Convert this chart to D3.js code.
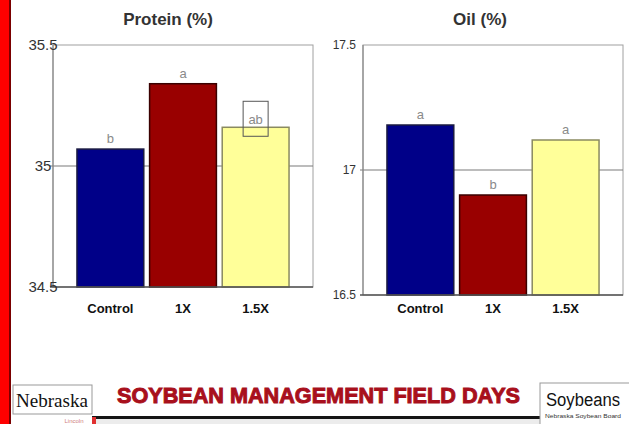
<!DOCTYPE html>
<html>
<head>
<meta charset="utf-8">
<script src="https://cdn.jsdelivr.net/npm/d3@7"></script>
<style>
  body { margin: 0; background: #fff; }
  svg { display: block; }
</style>
</head>
<body>
<svg id="chart" width="629" height="424"></svg>
<script>
// values
var categories = ["Control", "1X", "1.5X"];
var protein = [35.07, 35.34, 35.16];
var oil = [17.18, 16.90, 17.12];
var proteinLetters = ["b", "a", "ab"];
var oilLetters = ["a", "b", "a"];
var proteinTicks = [34.5, 35, 35.5];
var oilTicks = [16.5, 17, 17.5];
var proteinTickText = ["34.5", "35", "35.5"];
var oilTickText = ["16.5", "17", "17.5"];
var barColors = ["#000088", "#990000", "#ffff99"];
var barStrokes = ["#1a1a40", "#3a0000", "#8a8a60"];

var svg = d3.select("#chart");

// red strip on the left
svg.append("rect").attr("x", 0).attr("y", 0).attr("width", 9).attr("height", 424).attr("fill", "#ff0000");
svg.append("rect").attr("x", 9).attr("y", 0).attr("width", 2).attr("height", 424).attr("fill", "#7a0000");

function drawPanel(opt) {
  var x = d3.scaleBand().domain(categories).range([opt.left, opt.right])
    .paddingInner(0.08).paddingOuter(0.33);
  var y = d3.scaleLinear().domain(opt.domain).range([opt.bottom, opt.top]);
  var g = svg.append("g");

  // frame
  g.append("rect")
    .attr("x", opt.left).attr("y", opt.top)
    .attr("width", opt.right - opt.left).attr("height", opt.bottom - opt.top)
    .attr("fill", "none").attr("stroke", "#a0a0a0").attr("stroke-width", 1);

  // gridline at middle tick
  g.append("line")
    .attr("x1", opt.left - 3).attr("x2", opt.right)
    .attr("y1", y(opt.ticks[1])).attr("y2", y(opt.ticks[1]))
    .attr("stroke", "#7a7a7a").attr("stroke-width", 1.2);

  // bars
  g.selectAll("rect.bar").data(opt.values).enter().append("rect")
    .attr("class", "bar")
    .attr("x", function(d, i) { return x(categories[i]); })
    .attr("y", function(d) { return y(d); })
    .attr("width", x.bandwidth())
    .attr("height", function(d) { return opt.bottom - y(d); })
    .attr("fill", function(d, i) { return barColors[i]; })
    .attr("stroke", function(d, i) { return barStrokes[i]; })
    .attr("stroke-width", 1.5);

  // axes lines
  g.append("line").attr("x1", opt.left).attr("x2", opt.left)
    .attr("y1", opt.top).attr("y2", opt.bottom)
    .attr("stroke", "#8a8a8a").attr("stroke-width", 1.2);
  g.append("line").attr("x1", opt.left - 3).attr("x2", opt.right)
    .attr("y1", opt.bottom).attr("y2", opt.bottom)
    .attr("stroke", "#555").attr("stroke-width", 1.5);

  // y tick labels
  g.selectAll("text.ytick").data(opt.ticks).enter().append("text")
    .attr("class", "ytick")
    .attr("x", opt.tickX)
    .attr("y", function(d) { return y(d); })
    .attr("dy", "0.35em")
    .attr("text-anchor", opt.tickAnchor)
    .attr("font-family", opt.tickFont)
    .attr("font-size", opt.tickSize)
    .attr("fill", "#333")
    .text(function(d, i) { return opt.tickText[i]; });

  // x labels
  g.selectAll("text.xlab").data(categories).enter().append("text")
    .attr("class", "xlab")
    .attr("x", function(d) { return x(d) + x.bandwidth() / 2; })
    .attr("y", 313)
    .attr("text-anchor", "middle")
    .attr("font-family", "Liberation Sans, Arial, sans-serif")
    .attr("font-weight", "bold")
    .attr("font-size", 13)
    .attr("fill", "#111")
    .text(function(d) { return d; });

  // significance letters
  g.selectAll("text.letter").data(opt.values).enter().append("text")
    .attr("class", "letter")
    .attr("x", function(d, i) { return x(categories[i]) + x.bandwidth() / 2; })
    .attr("y", function(d, i) { return y(d) - (opt.letters[i] === "ab" ? 3 : 6); })
    .attr("text-anchor", "middle")
    .attr("font-family", "Liberation Sans, Arial, sans-serif")
    .attr("font-size", 13)
    .attr("fill", "#8a8a8a")
    .text(function(d, i) { return opt.letters[i]; });

  // box round "ab"
  opt.letters.forEach(function(l, i) {
    if (l !== "ab") return;
    var cx = x(categories[i]) + x.bandwidth() / 2;
    g.append("rect")
      .attr("x", cx - 12.5).attr("y", y(opt.values[i]) - 26)
      .attr("width", 25).attr("height", 35)
      .attr("fill", "none").attr("stroke", "#555").attr("stroke-width", 1);
  });

  // title
  g.append("text")
    .attr("x", opt.titleX).attr("y", 25)
    .attr("text-anchor", "middle")
    .attr("font-family", "Liberation Sans, Arial, sans-serif")
    .attr("font-weight", "bold")
    .attr("font-size", 17)
    .attr("fill", "#333")
    .text(opt.title);
}

drawPanel({
  left: 53, right: 313, top: 45, bottom: 287,
  domain: [34.5, 35.5], values: protein, letters: proteinLetters,
  ticks: proteinTicks, tickText: proteinTickText,
  tickX: 43, tickAnchor: "middle", tickFont: "Liberation Sans, Arial, sans-serif", tickSize: 15,
  title: "Protein (%)", titleX: 168
});

drawPanel({
  left: 363, right: 623, top: 45, bottom: 295,
  domain: [16.5, 17.5], values: oil, letters: oilLetters,
  ticks: oilTicks, tickText: oilTickText,
  tickX: 356, tickAnchor: "end", tickFont: "Liberation Sans Narrow, Liberation Sans, sans-serif", tickSize: 12,
  title: "Oil (%)", titleX: 480
});

// footer banner
var foot = svg.append("g");
foot.append("rect").attr("x", 92).attr("y", 419).attr("width", 448).attr("height", 5).attr("fill", "#ececec");
foot.append("rect").attr("x", 92).attr("y", 416).attr("width", 448).attr("height", 3).attr("fill", "#151515");
foot.append("rect").attr("x", 92).attr("y", 417).attr("width", 4).attr("height", 7).attr("fill", "#e03030");

foot.append("rect").attr("x", 13).attr("y", 385).attr("width", 79).attr("height", 29)
  .attr("fill", "#fff").attr("stroke", "#999");
foot.append("text").attr("x", 52).attr("y", 407).attr("text-anchor", "middle")
  .attr("font-family", "Liberation Serif, DejaVu Serif, serif").attr("font-size", 19)
  .attr("textLength", 72).attr("lengthAdjust", "spacingAndGlyphs")
  .attr("fill", "#111").text("Nebraska");
foot.append("text").attr("x", 74).attr("y", 423).attr("text-anchor", "middle")
  .attr("font-family", "Liberation Sans, sans-serif").attr("font-size", 6)
  .attr("fill", "#d08080").text("Lincoln");

foot.append("text").attr("x", 117).attr("y", 403)
  .attr("font-family", "Liberation Sans, Arial, sans-serif").attr("font-weight", "bold")
  .attr("font-size", 22).attr("textLength", 403).attr("lengthAdjust", "spacingAndGlyphs")
  .attr("fill", "#a8101c").attr("stroke", "#a8101c").attr("stroke-width", 1)
  .text("SOYBEAN MANAGEMENT FIELD DAYS");

foot.append("rect").attr("x", 540).attr("y", 383).attr("width", 95).attr("height", 45)
  .attr("fill", "#fff").attr("stroke", "#999");
foot.append("text").attr("x", 546).attr("y", 406)
  .attr("font-family", "Liberation Sans, sans-serif").attr("font-size", 18)
  .attr("textLength", 74).attr("lengthAdjust", "spacingAndGlyphs")
  .attr("fill", "#111").text("Soybeans");
foot.append("text").attr("x", 545).attr("y", 418)
  .attr("font-family", "Liberation Sans, sans-serif").attr("font-size", 5)
  .attr("textLength", 76).attr("lengthAdjust", "spacingAndGlyphs")
  .attr("fill", "#333").text("Nebraska Soybean Board");
</script>
</body>
</html>
